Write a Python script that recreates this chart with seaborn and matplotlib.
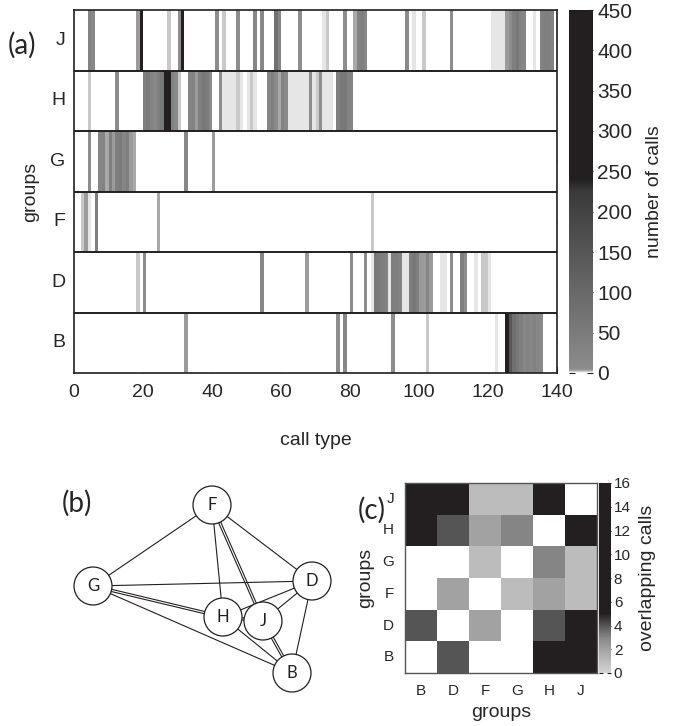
import numpy as np
import pandas as pd
import matplotlib
matplotlib.use("Agg")
import matplotlib.pyplot as plt
import seaborn as sns
from matplotlib.colors import LinearSegmentedColormap
from matplotlib.patches import Circle

# ---------------- data ----------------
groups = ["J", "H", "G", "F", "D", "B"]
n_types = 140
xtick_vals = [0, 20, 40, 60, 80, 100, 120, 140]

# panel (a): call-type usage per group (sparse: index of call type, number of calls)
J_idx = [4, 5, 18, 19, 27, 30, 31, 41, 43, 47, 52, 54, 58, 59, 65, 72, 73, 78, 81, 82, 83, 84,
         96, 98, 101, 109, 121, 122, 123, 124, 125, 126, 127, 128, 129, 130, 133, 135, 136, 137, 138]
J_cnt = [30, 15, 4, 300, 2, 5, 300, 5, 2, 5, 20, 15, 80, 20, 5, 1, 2, 5, 3, 30, 40, 20,
         10, 1, 2, 5, 1, 1, 1, 1, 4, 5, 40, 60, 30, 20, 1, 30, 40, 40, 30]
H_idx = [4, 12, 20, 21, 22, 23, 24, 25, 26, 27, 28, 29, 30, 33, 34, 35, 36, 37, 38, 39, 42,
         43, 44, 45, 46, 47, 48, 50, 51, 52, 56, 57, 58, 59, 60, 61, 62, 63, 64, 65, 66, 67,
         68, 69, 70, 71, 72, 73, 74, 76, 77, 78, 79, 80]
H_cnt = [2, 5, 40, 50, 30, 15, 40, 60, 400, 300, 30, 10, 2, 20, 30, 4, 40, 60, 50, 10, 5,
         1, 1, 1, 1, 2, 1, 1, 2, 1, 20, 40, 10, 3, 30, 10, 1, 1, 1, 1, 1, 1,
         5, 1, 2, 5, 1, 1, 1, 40, 60, 60, 30, 20]
G_idx = [4, 7, 8, 9, 10, 11, 12, 13, 14, 15, 16, 17, 32, 40]
G_cnt = [5, 20, 30, 3, 40, 4, 40, 50, 20, 40, 4, 3, 15, 4]
F_idx = [2, 3, 4, 6, 24, 86]
F_cnt = [2, 4, 1, 40, 3, 2]
D_idx = [18, 20, 54, 67, 80, 84, 86, 87, 88, 89, 90, 91, 92, 93, 94, 95, 96, 97, 98, 99,
         100, 101, 102, 103, 106, 107, 109, 112, 113, 116, 118, 119, 120]
D_cnt = [2, 5, 15, 4, 5, 5, 1, 60, 50, 40, 30, 1, 40, 40, 30, 1, 1, 40, 60, 40,
         4, 4, 20, 4, 1, 1, 5, 40, 5, 1, 2, 2, 1]
B_idx = [32, 76, 78, 92, 102, 122, 125, 126, 127, 128, 129, 130, 131, 132, 133, 134, 135]
B_cnt = [4, 5, 15, 5, 2, 1, 400, 150, 80, 60, 40, 20, 30, 20, 30, 20, 10]
cbar_a_ticks = list(range(0, 451, 50))

# panel (b): network layout
node_names = ["F", "G", "D", "H", "J", "B"]
node_x = [212, 93, 312, 223, 263, 292]
node_y = [505, 586, 581, 617, 621, 673]
edge_a = ["F", "F", "F", "F", "G", "G", "G", "H", "H", "J", "D", "J", "H"]
edge_b = ["G", "D", "H", "J", "D", "H", "B", "J", "D", "D", "B", "B", "B"]
edge_mult = [1, 1, 1, 2, 1, 2, 1, 2, 1, 1, 1, 2, 1]

# panel (c): overlapping calls between groups
ov_rows = ["J", "H", "G", "F", "D", "B"]
ov_cols = ["B", "D", "F", "G", "H", "J"]
ov_J = [16, 15, 1, 1, 16, 0]
ov_H = [14, 4, 2, 3, 0, 16]
ov_G = [0, 0, 1, 0, 3, 1]
ov_F = [0, 2, 0, 1, 2, 1]
ov_D = [4, 0, 2, 0, 4, 15]
ov_B = [0, 4, 0, 0, 14, 16]
cbar_c_ticks = list(range(0, 17, 2))

# ---------------- build tables ----------------
calls = np.zeros((len(groups), n_types))
for i, (idx, cnt) in enumerate([(J_idx, J_cnt), (H_idx, H_cnt), (G_idx, G_cnt),
                                (F_idx, F_cnt), (D_idx, D_cnt), (B_idx, B_cnt)]):
    calls[i, idx] = cnt
calls_df = pd.DataFrame(calls, index=groups, columns=np.arange(1, n_types + 1))
ov_df = pd.DataFrame([ov_J, ov_H, ov_G, ov_F, ov_D, ov_B], index=ov_rows, columns=ov_cols)

# ---------------- style ----------------
sns.set_style("white")
plt.rcParams["font.family"] = ["Liberation Sans", "DejaVu Sans"]
LBL_FONT = ["Lato", "DejaVu Sans"]
INK = "#231f20"

W, H = 677, 726
fig = plt.figure(figsize=(W / 100, H / 100), dpi=100)


def rect(l, t, r, b):
    return [l / W, 1 - b / H, (r - l) / W, (b - t) / H]


cmap_a = LinearSegmentedColormap.from_list(
    "calls",
    [(0, "#ffffff"), (1 / 450, "#e6e6e6"), (2 / 450, "#c8c8c8"), (3 / 450, "#a8a8a8"),
     (5 / 450, "#8c8c8c"), (225 / 450, "#3a3a3a"), (240 / 450, INK), (1, INK)], N=4096)
cmap_c = LinearSegmentedColormap.from_list(
    "ov",
    [(0, "#d4d4d4"), (1 / 16, "#bcbcbc"), (2 / 16, "#a2a2a2"), (3 / 16, "#858585"),
     (4 / 16, "#555555"), (5 / 16, INK), (1, INK)], N=1024)

# ---------------- panel (a) ----------------
ax_a = fig.add_axes(rect(74, 10, 557, 373))
cax_a = fig.add_axes(rect(569, 10, 593, 373))
sns.heatmap(calls_df, ax=ax_a, cmap=cmap_a, vmin=0, vmax=450, cbar_ax=cax_a,
            xticklabels=False, yticklabels=groups)
ax_a.set_xticks(xtick_vals)
ax_a.set_xticklabels([str(v) for v in xtick_vals], fontsize=14)
ax_a.set_yticks(np.arange(len(groups)) + 0.5)
ax_a.set_yticklabels(groups, fontsize=14, rotation=0)
ax_a.tick_params(axis="x", bottom=True, direction="in", length=4, pad=8, color=INK)
ax_a.tick_params(axis="y", left=False, right=True, direction="in", length=4, pad=6,
                 labelright=False, color=INK)
for yy in range(1, len(groups)):
    ax_a.axhline(yy, color=INK, lw=1.4)
for s in ax_a.spines.values():
    s.set_visible(True)
    s.set_color(INK)
    s.set_linewidth(1.2)
ax_a.set_xlabel("call type", fontsize=14, labelpad=22)
ax_a.set_ylabel("groups", fontsize=14, labelpad=8)
cb_a = ax_a.collections[0].colorbar
cb_a.set_ticks(cbar_a_ticks)
cb_a.ax.tick_params(labelsize=15, direction="in", length=4, left=True, right=True,
                    color=INK, pad=3)
cb_a.set_label("number of calls", fontsize=14, labelpad=10)
cb_a.outline.set_visible(True)
cb_a.outline.set_edgecolor(INK)
fig.text(8 / W, 1 - 45 / H, "(a)", fontsize=20, family=LBL_FONT, va="center", ha="left")

# ---------------- panel (b) ----------------
ax_b = fig.add_axes(rect(60, 460, 360, 726))
ax_b.set_xlim(60, 360)
ax_b.set_ylim(726, 460)
ax_b.axis("off")
pos = {n: (x, y) for n, x, y in zip(node_names, node_x, node_y)}
for a, b, m in zip(edge_a, edge_b, edge_mult):
    x0, y0 = pos[a]
    x1, y1 = pos[b]
    dx, dy = x1 - x0, y1 - y0
    L = np.hypot(dx, dy)
    nx, ny = -dy / L, dx / L
    offs = [0.0] if m == 1 else [-1.1, 1.1]
    for o in offs:
        ax_b.plot([x0 + nx * o, x1 + nx * o], [y0 + ny * o, y1 + ny * o],
                  color=INK, lw=0.8, zorder=1)
for n in node_names:
    x, y = pos[n]
    ax_b.add_patch(Circle((x, y), 19, facecolor="white", edgecolor=INK, lw=0.9, zorder=3))
    ax_b.text(x, y, n, ha="center", va="center", fontsize=12, family=LBL_FONT,
              color=INK, zorder=4)
fig.text(62 / W, 1 - 503 / H, "(b)", fontsize=20, family=LBL_FONT, va="center", ha="left")

# ---------------- panel (c) ----------------
ax_c = fig.add_axes(rect(405, 483, 597, 673))
cax_c = fig.add_axes(rect(599, 483, 611, 673))
sns.heatmap(ov_df, ax=ax_c, cmap=cmap_c, vmin=0, vmax=16, mask=(ov_df.values == 0),
            cbar_ax=cax_c, xticklabels=ov_cols, yticklabels=ov_rows)
ax_c.tick_params(axis="both", labelsize=11, length=0, pad=8)
ax_c.set_yticklabels(ov_rows, rotation=0)
ax_c.set_xticklabels(ov_cols, rotation=0)
for s in ax_c.spines.values():
    s.set_visible(True)
    s.set_color("#555555")
    s.set_linewidth(1.0)
ax_c.set_xlabel("groups", fontsize=14, labelpad=4)
ax_c.set_ylabel("groups", fontsize=14, labelpad=6)
cb_c = ax_c.collections[0].colorbar
cb_c.set_ticks(cbar_c_ticks)
cb_c.ax.tick_params(labelsize=11, direction="in", length=3, left=True, right=True,
                    color=INK, pad=2)
cb_c.set_label("overlapping calls", fontsize=14, labelpad=6)
cb_c.outline.set_visible(True)
cb_c.outline.set_edgecolor(INK)
fig.text(358 / W, 1 - 510 / H, "(c)", fontsize=20, family=LBL_FONT, va="center", ha="left")

fig.savefig("out.png", dpi=100)
